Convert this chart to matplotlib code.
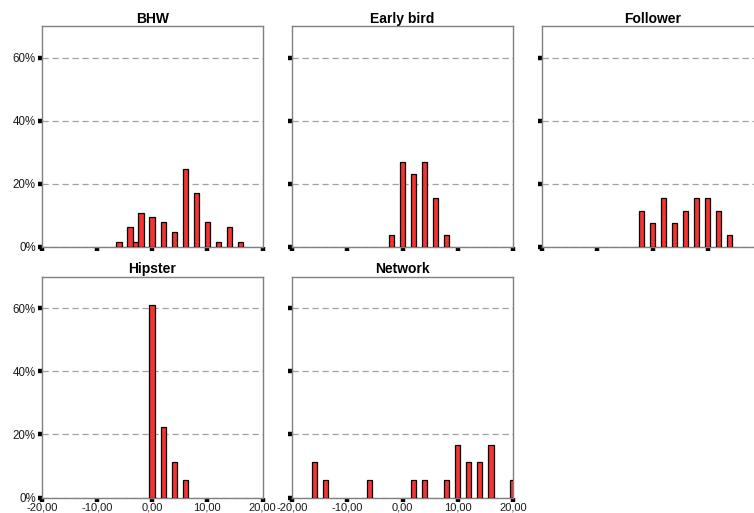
import matplotlib
matplotlib.use("Agg")
import matplotlib.pyplot as plt
from matplotlib.ticker import FuncFormatter, PercentFormatter

plt.rcParams["font.family"] = ["Liberation Sans", "DejaVu Sans"]

# share of cases (%) per difference value
bhw_x = [-6, -4, -3, -2, 0, 2, 4, 6, 8, 10, 12, 14, 16]
bhw_pct = [1.6, 6.3, 1.6, 10.9, 9.4, 7.8, 4.7, 24.8, 17.0, 7.8, 1.6, 6.3, 1.6]

early_x = [-2, 0, 2, 4, 6, 8]
early_pct = [3.85, 26.9, 23.1, 26.9, 15.4, 3.85]

follower_x = [-2, 0, 2, 4, 6, 8, 10, 12, 14]
follower_pct = [11.5, 7.7, 15.4, 7.7, 11.5, 15.4, 15.4, 11.5, 3.85]

hipster_x = [0, 2, 4, 6]
hipster_pct = [61.1, 22.2, 11.1, 5.6]

network_x = [-16, -14, -6, 2, 4, 8, 10, 12, 14, 16, 20]
network_pct = [11.1, 5.6, 5.6, 5.6, 5.6, 5.6, 16.7, 11.1, 11.1, 16.7, 5.6]

panel_titles = ["BHW", "Early bird", "Follower", "Hipster", "Network"]
x_ticks = [-20, -10, 0, 10, 20]
y_ticks = [0, 20, 40, 60]

W, H = 754, 513


def comma_fmt(v, pos):
    return f"{v:.2f}".replace(".", ",")


def add_panel(fig, left_px, top_px, title, xs, pct, show_x, show_y):
    w_px, h_px = 220.5, 221
    ax = fig.add_axes([left_px / W, 1 - (top_px + h_px) / H, w_px / W, h_px / H])
    ax.bar(xs, pct, width=1.0, color="#f53333", edgecolor="black",
           linewidth=0.9, zorder=3)
    ax.set_xlim(-20, 20)
    ax.set_ylim(0, 70)
    ax.set_xticks(x_ticks)
    ax.set_yticks(y_ticks)
    ax.xaxis.set_major_formatter(FuncFormatter(comma_fmt))
    ax.yaxis.set_major_formatter(PercentFormatter(xmax=100, decimals=0))
    ax.tick_params(direction="out", length=3.2, width=3.2, color="black",
                   labelcolor="#1a1a1a")
    ax.tick_params(axis="y", pad=1.2, labelsize=8.3, labelleft=show_y)
    ax.tick_params(axis="x", pad=0.3, labelsize=8.0, labelbottom=show_x)
    ax.yaxis.grid(True, linestyle=(0, (5, 3)), color="#a0a0a0", linewidth=0.9)
    ax.set_axisbelow(True)
    for s in ax.spines.values():
        s.set_color("#808080")
        s.set_linewidth(1.0)
    ax.set_title(title, fontsize=10, fontweight="bold", pad=2.5)
    return ax


def main():
    fig = plt.figure(figsize=(W / 100, H / 100), dpi=100)
    cols = [42, 292.3, 542.3]
    rows = [26, 276.5]
    data = [(bhw_x, bhw_pct), (early_x, early_pct), (follower_x, follower_pct),
            (hipster_x, hipster_pct), (network_x, network_pct)]
    for i, (xs, pct) in enumerate(data):
        r, c = divmod(i, 3)
        add_panel(fig, cols[c], rows[r], panel_titles[i], xs, pct,
                  show_x=(r == 1), show_y=(c == 0))
    fig.savefig("out.png", dpi=100)
    plt.close(fig)


if __name__ == "__main__":
    main()
